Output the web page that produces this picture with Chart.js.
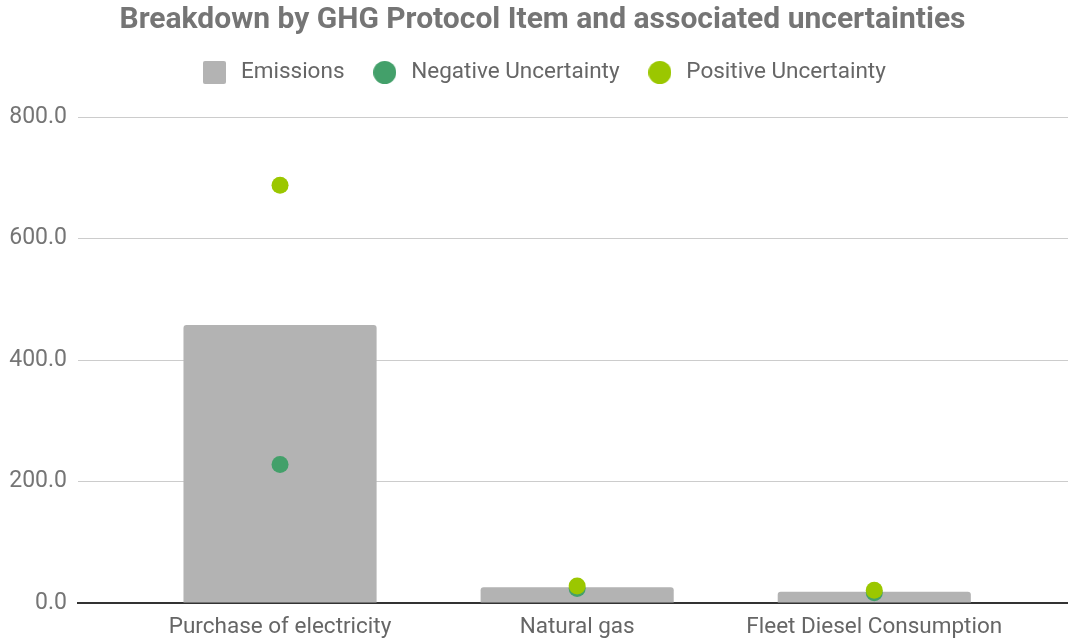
<!DOCTYPE html>
<html>
<head>
<meta charset="utf-8">
<script src="https://cdn.jsdelivr.net/npm/chart.js@4/dist/chart.umd.min.js"></script>
<style>
  html, body { margin: 0; padding: 0; background: #fff; }
  #wrap { width: 1068px; height: 638px; }
</style>
</head>
<body>
<div id="wrap"><canvas id="myChart" width="1068" height="638"></canvas></div>
<script>
var categories = ['Purchase of electricity', 'Natural gas', 'Fleet Diesel Consumption'];
var emissions = [458, 25.8, 18.6];
var negativeUnc = [228, 24, 17];
var positiveUnc = [688, 28, 21];
var yTicks = [0, 200, 400, 600, 800];

var gray = '#b3b3b3';
var green = '#43a06a';
var lime = '#9bc700';

// little canvases used as legend icons (square for bars, dots for points)
function legendIcon(color, shape) {
    var c = document.createElement('canvas');
    c.width = 23;
    c.height = 23;
    var g = c.getContext('2d');
    g.fillStyle = color;
    g.beginPath();
    if (shape == 'rect') {
        g.roundRect(0, 0, 23, 23, 2);
    } else {
        g.arc(11.5, 11.5, 11.5, 0, 2 * Math.PI);
    }
    g.fill();
    return c;
}
var icons = [legendIcon(gray, 'rect'), legendIcon(green, 'circle'), legendIcon(lime, 'circle')];

// pushes the plot area down a little below the legend
var legendGap = {
    id: 'legendGap',
    beforeLayout: function(chart) {
        var lg = chart.legend;
        if (lg && !lg._gapPatched) {
            var fit = lg.fit;
            lg.fit = function() {
                fit.call(this);
                this.height += 23.5;
            };
            lg._gapPatched = true;
        }
    }
};

function points(values) {
    return values.map(function(v, i) {
        return { x: i, y: v };
    });
}

var ctx = document.getElementById('myChart').getContext('2d');
new Chart(ctx, {
    data: {
        datasets: [{
            type: 'bar',
            label: 'Emissions',
            data: points(emissions),
            backgroundColor: gray,
            borderWidth: 0,
            borderRadius: 3,
            barPercentage: 0.65,
            categoryPercentage: 1,
            order: 3
        }, {
            type: 'line',
            label: 'Negative Uncertainty',
            data: points(negativeUnc),
            showLine: false,
            backgroundColor: green,
            borderColor: green,
            pointRadius: 8.5,
            pointBorderWidth: 0,
            order: 2
        }, {
            type: 'line',
            label: 'Positive Uncertainty',
            data: points(positiveUnc),
            showLine: false,
            backgroundColor: lime,
            borderColor: lime,
            pointRadius: 8.5,
            pointBorderWidth: 0,
            order: 1
        }]
    },
    options: {
        responsive: false,
        animation: false,
        // right padding runs past the canvas so title/legend centre where the original does
        layout: { autoPadding: false, padding: { left: 8, right: -9, top: 0, bottom: 0 } },
        plugins: {
            title: {
                display: true,
                text: 'Breakdown by GHG Protocol Item and associated uncertainties',
                color: '#757575',
                font: { family: 'Roboto', size: 30, weight: 'bold', lineHeight: 1.04 },
                padding: { top: 5, bottom: 0 }
            },
            legend: {
                display: true,
                labels: {
                    usePointStyle: true,
                    pointStyleWidth: 30.5,
                    padding: 25,
                    color: '#666',
                    font: { family: 'Roboto', size: 22.5 },
                    sort: function(a, b) { return a.datasetIndex - b.datasetIndex; },
                    generateLabels: function(chart) {
                        var items = Chart.defaults.plugins.legend.labels.generateLabels(chart);
                        items.forEach(function(it) {
                            it.pointStyle = icons[it.datasetIndex];
                        });
                        return items;
                    }
                }
            },
            tooltip: { enabled: false }
        },
        scales: {
            x: {
                type: 'linear',
                offset: false,
                min: -0.68,
                max: 2.652,
                grid: { display: false, drawTicks: false },
                border: { display: true, color: '#333', width: 2 },
                afterBuildTicks: function(scale) {
                    scale.ticks = categories.map(function(c, i) { return { value: i }; });
                },
                afterFit: function(scale) { scale.height = 35; },
                ticks: {
                    autoSkip: false,
                    maxRotation: 0,
                    padding: 11,
                    color: '#666',
                    font: { family: 'Roboto', size: 22.5 },
                    callback: function(v) { return categories[v]; }
                }
            },
            y: {
                min: 0,
                max: 800,
                grid: { color: '#ccc', lineWidth: 1, drawTicks: false },
                border: { display: false },
                afterBuildTicks: function(scale) {
                    scale.ticks = yTicks.map(function(v) { return { value: v }; });
                },
                afterFit: function(scale) { scale.width = 70; },
                ticks: {
                    padding: 11,
                    color: '#757575',
                    font: { family: 'Roboto', size: 23 },
                    callback: function(v) { return v.toFixed(1); }
                }
            }
        }
    },
    plugins: [legendGap]
});
</script>
</body>
</html>
